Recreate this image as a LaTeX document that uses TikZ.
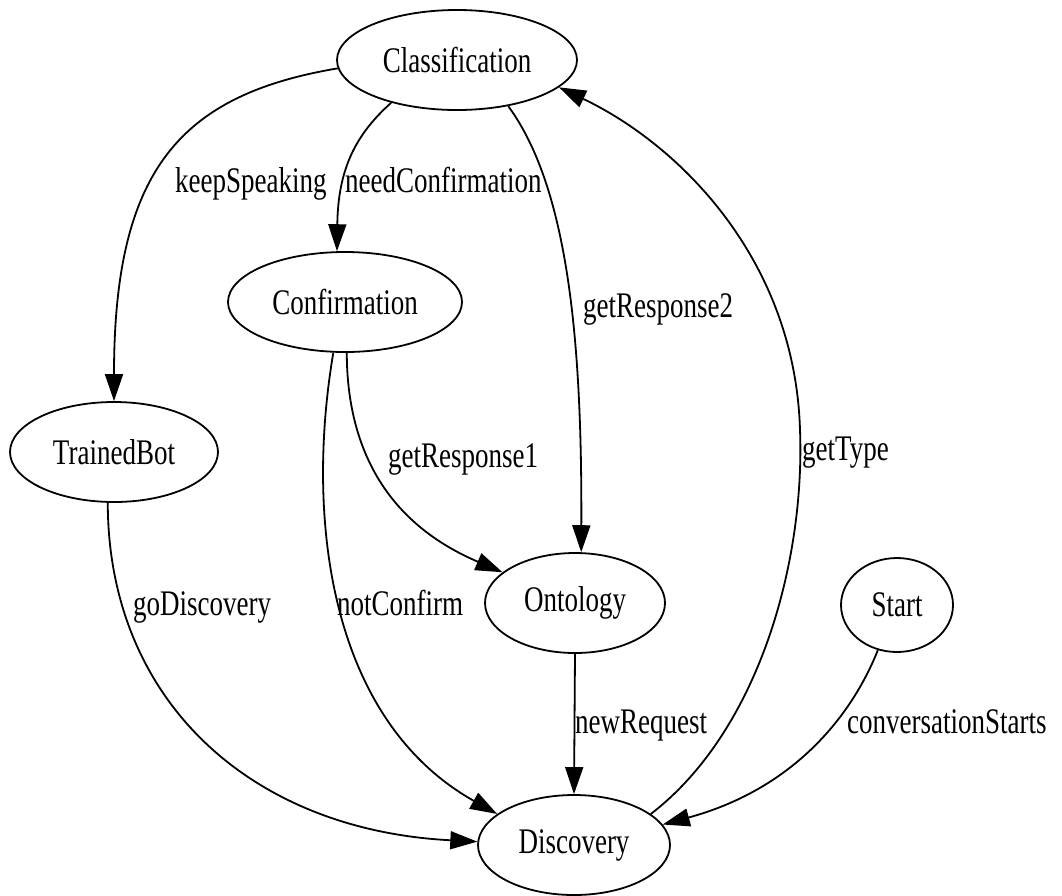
\documentclass[tikz,border=0pt]{standalone}
\usepackage{fontspec}
\usepackage{graphicx}
\setmainfont{Liberation Serif}
\newcommand\sq[1]{\scalebox{0.75}[1]{#1}}
\usetikzlibrary{arrows.meta,shapes.geometric}
\tikzset{
  state/.style={ellipse,draw,line width=1.8pt,inner sep=0pt,font=\fontsize{36pt}{40pt}\selectfont},
  lbl/.style={anchor=base west,inner sep=0pt,font=\fontsize{36pt}{40pt}\selectfont},
  edge/.style={line width=1.8pt,-{Triangle[length=27pt,width=18pt]}}
}
\begin{document}
\begin{tikzpicture}[x=1pt,y=-1pt]
\useasboundingbox (0,0) rectangle (1062,895);
\node[state,minimum width=240pt,minimum height=100pt] (Cl) at (457,60) {\sq{Classification}};
\node[state,minimum width=234pt,minimum height=100pt] (Conf) at (345,302) {\sq{Confirmation}};
\node[state,minimum width=208pt,minimum height=100pt] (TB) at (114,452) {\sq{TrainedBot}};
\node[state,minimum width=180pt,minimum height=100pt] (Ont) at (575,603) {\sq{Ontology}};
\node[state,minimum width=192pt,minimum height=100pt] (Dis) at (574,845) {\sq{Discovery}};
\node[state,minimum width=112pt,minimum height=94pt] (St) at (897,605) {\sq{Start}};

\draw[edge] (Cl.184) .. controls (180,95) and (114,170) .. (TB.90);
\draw[edge] (Cl.213) .. controls (355,135) and (338,170) .. (Conf.99);
\draw[edge] (Cl.318) .. controls (570,190) and (582,350) .. (Ont.83);
\draw[edge] (Conf.272) .. controls (347,440) and (380,520) .. (Ont.157);
\draw[edge] (Conf.257) .. controls (305,520) and (330,720) .. (Dis.158);
\draw[edge] (TB.263) .. controls (108,700) and (250,830) .. (Dis.178);
\draw[edge] (Ont.270) -- (Dis.90);
\draw[edge] (St.247) .. controls (850,720) and (790,790) .. (Dis.13);
\draw[edge] (Dis.22) .. controls (760,730) and (805,560) .. (800,430) .. controls (795,260) and (680,145) .. (Cl.345);

\node[lbl] (l1) at (175,192) {\sq{keepSpeaking}};
\node[lbl] (l2) at (345,192) {\sq{needConfirmation}};
\node[lbl] (l3) at (583,317) {\sq{getResponse2}};
\node[lbl] (l4) at (388,467) {\sq{getResponse1}};
\node[lbl] (l5) at (133,615) {\sq{goDiscovery}};
\node[lbl] (l6) at (337,615) {\sq{notConfirm}};
\node[lbl] (l7) at (575,733) {\sq{newRequest}};
\node[lbl] (l8) at (847,733) {\sq{conversationStarts}};
\node[lbl] (l9) at (802,460) {\sq{getType}};
\end{tikzpicture}
\end{document}
